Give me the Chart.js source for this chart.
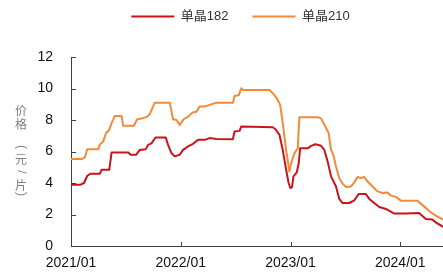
<!DOCTYPE html>
<html><head><meta charset="utf-8">
<script src="https://cdn.jsdelivr.net/npm/chart.js@4/dist/chart.umd.min.js"></script>
<style>html,body{margin:0;padding:0;background:#fff;overflow:hidden}#wrap{width:443px;height:273px;position:relative}</style>
</head><body><div id="wrap"><canvas id="c" width="443" height="273"></canvas></div>
<script>
// ---- data ----
const seriesNames = ['单晶182', '单晶210'];
const xTickLabels = ['2021/01', '2022/01', '2023/01', '2024/01'];
const xTickMonths = [0, 12, 24, 36];          // months since 2021/01
const yAxisTitle = '价格（元/片）';
const months182 = [0,1.05,1.42,1.78,2.15,3.16,3.35,4.18,4.44,6.27,6.53,7.11,7.52,8.18,8.43,8.80,9.24,10.36,10.61,10.98,11.34,11.89,12.25,12.79,13.34,13.89,14.61,15.16,15.89,17.70,17.88,18.43,18.61,22.06,22.36,22.79,23.15,23.52,23.79,23.98,24.17,24.32,24.68,24.90,25.05,25.88,26.25,26.72,27.34,27.70,28.06,28.43,28.97,29.33,29.69,30.42,30.97,31.44,32.24,32.61,33.15,33.70,34.43,35.34,36.61,38.06,38.79,39.51,39.88,40.67];
const price182  = [3.89,3.89,4.0,4.46,4.59,4.59,4.84,4.84,5.94,5.94,5.79,5.79,6.1,6.15,6.42,6.52,6.89,6.89,6.42,5.9,5.69,5.79,6.1,6.32,6.49,6.74,6.74,6.85,6.8,6.78,7.27,7.31,7.58,7.54,7.41,7.06,6.1,4.84,4.0,3.68,3.75,4.42,4.67,5.27,6.2,6.2,6.36,6.46,6.36,6.1,5.37,4.42,3.78,2.99,2.73,2.73,2.9,3.3,3.3,2.99,2.73,2.48,2.35,2.06,2.06,2.1,1.72,1.68,1.5,1.22];
const months210 = [0,1.17,1.53,1.78,2.98,3.16,3.52,3.82,4.18,4.44,4.80,5.53,5.70,6.87,7.23,7.71,8.32,8.61,9.16,10.80,11.16,11.53,11.89,12.32,12.79,13.27,13.71,14.07,14.61,15.16,15.89,17.70,17.88,18.35,18.61,18.79,21.70,22.06,22.50,22.87,23.15,23.52,23.88,24.07,24.43,24.79,24.97,26.97,27.34,27.81,28.17,28.43,28.68,28.97,29.33,29.69,30.07,30.61,30.97,31.33,31.70,32.06,32.42,32.97,33.51,34.06,34.60,34.97,35.52,36.06,37.87,38.24,38.79,39.33,39.88,40.67];
const price210  = [5.52,5.52,5.64,6.15,6.15,6.45,6.63,7.16,7.37,7.8,8.26,8.26,7.63,7.63,8.05,8.1,8.2,8.37,9.1,9.1,8.05,8.0,7.69,8.05,8.2,8.47,8.53,8.85,8.85,8.96,9.1,9.1,9.52,9.58,10.01,9.91,9.9,9.7,9.38,8.96,7.8,6.1,4.73,5.27,5.9,6.2,8.18,8.18,8.1,7.58,7.17,6.1,5.79,5.05,4.32,3.96,3.75,3.78,4.04,4.38,4.32,4.38,4.1,3.78,3.47,3.37,3.4,3.2,3.12,2.88,2.88,2.69,2.42,2.14,1.93,1.68];

// ---- styles ----
const RED = '#C8141B', ORANGE = '#F28A3A', AXIS = '#404040';
const FONT = '"Liberation Sans", Arial, "Noto Sans CJK SC", sans-serif';

const legendHeight = {
  id: 'legendHeight',
  beforeLayout(chart) {
    const lg = chart.legend;
    if (lg && !lg._patched) {
      const orig = lg.fit;
      lg.fit = function () { orig.call(this); this.height = 71; };
      lg._patched = true;
    }
  }
};

const inwardTicks = {
  id: 'inwardTicks',
  afterDraw(chart) {
    const {ctx, chartArea: a, scales: {x, y}} = chart;
    ctx.save();
    ctx.strokeStyle = AXIS; ctx.lineWidth = 1;
    ctx.beginPath();
    y.ticks.forEach(t => {
      if (t.value === 0) return;
      const py = Math.round(y.getPixelForValue(t.value)) + 0.5;
      ctx.moveTo(a.left, py); ctx.lineTo(a.left + 5, py);
    });
    x.ticks.forEach(t => {
      if (t.value === 0) return;
      const px = Math.round(x.getPixelForValue(t.value)) + 0.5;
      ctx.moveTo(px, a.bottom); ctx.lineTo(px, a.bottom - 4);
    });
    ctx.stroke();
    ctx.restore();
  }
};

const verticalTitle = {
  id: 'verticalTitle',
  afterDraw(chart) {
    const {ctx} = chart;
    const chars = Array.from(yAxisTitle);
    const centersY = [110.5, 124.5, 147, 159, 172, 185, 194];
    const cx = 21;
    ctx.save();
    ctx.fillStyle = '#7F7F7F';
    ctx.textAlign = 'center';
    ctx.textBaseline = 'middle';
    chars.forEach((ch, i) => {
      const cy = centersY[i];
      ctx.save();
      ctx.translate(cx, cy);
      if (ch === '（' || ch === '）' || ch === '/') {
        const a = ch === '（' ? '(' : ch === '）' ? ')' : '/';
        ctx.rotate(Math.PI / 2);
        ctx.font = '12px "Liberation Sans", sans-serif';
        ctx.fillText(a, 0, 0);
      } else {
        ctx.font = '12px "Noto Sans CJK SC", sans-serif';
        ctx.fillText(ch, 0, 0);
      }
      ctx.restore();
    });
    ctx.restore();
  }
};

new Chart(document.getElementById('c'), {
  type: 'line',
  data: {
    datasets: [
      { label: seriesNames[0], data: months182.map((m, i) => ({x: m, y: price182[i]})),
        borderColor: RED, backgroundColor: RED, borderWidth: 2, pointRadius: 0, tension: 0, borderJoinStyle: 'round' },
      { label: seriesNames[1], data: months210.map((m, i) => ({x: m, y: price210[i]})),
        borderColor: ORANGE, backgroundColor: ORANGE, borderWidth: 2, pointRadius: 0, tension: 0, borderJoinStyle: 'round' }
    ]
  },
  options: {
    responsive: false,
    animation: false,
    devicePixelRatio: 1,
    layout: { padding: { left: 38, right: 0, top: -14, bottom: 0 } },
    plugins: {
      tooltip: { enabled: false },
      legend: {
        position: 'top',
        labels: {
          boxWidth: 43, boxHeight: 2, padding: 24,
          color: '#333', font: { size: 13, family: FONT },
          generateLabels(chart) {
            const items = Chart.defaults.plugins.legend.labels.generateLabels(chart);
            items.forEach(it => { it.lineWidth = 0; });
            return items;
          }
        }
      }
    },
    scales: {
      x: {
        type: 'linear', min: 0, max: 40.67,
        afterBuildTicks(s) { s.ticks = xTickMonths.map(v => ({value: v})); },
        afterFit(s) { s.height = 27; },
        grid: { display: false, drawTicks: false },
        border: { display: true, color: AXIS, width: 1 },
        ticks: {
          padding: 9, maxRotation: 0, autoSkip: false, color: '#111',
          font: { size: 14, family: FONT },
          callback(v) { const i = xTickMonths.indexOf(v); return i >= 0 ? xTickLabels[i] : ''; }
        }
      },
      y: {
        min: 0, max: 12,
        afterFit(s) { s.width = 33; },
        grid: { display: false, drawTicks: false },
        border: { display: true, color: AXIS, width: 1 },
        ticks: { stepSize: 2, padding: 18, color: '#111', font: { size: 14, family: FONT } }
      }
    }
  },
  plugins: [legendHeight, inwardTicks, verticalTitle]
});
</script>
</body></html>
